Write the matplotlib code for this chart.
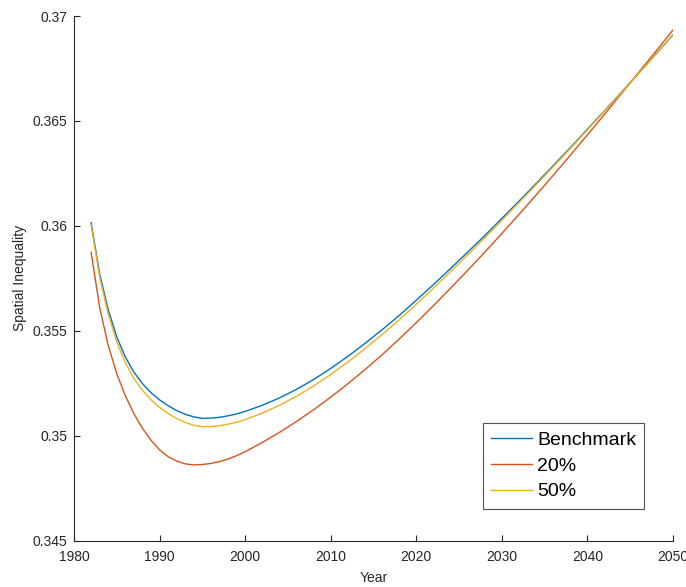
import numpy as np
import matplotlib
matplotlib.use('Agg')
import matplotlib.pyplot as plt
from matplotlib.ticker import FuncFormatter

plt.rcParams['font.family'] = ['Liberation Sans', 'DejaVu Sans']

# Simulated spatial inequality paths
years = [1982, 1983, 1984, 1985, 1986, 1987, 1988, 1989, 1990, 1991, 1992, 1993,
         1994, 1995, 1996, 1997, 1998, 1999, 2000, 2002, 2004, 2006, 2008, 2010,
         2012, 2014, 2016, 2018, 2020, 2022, 2024, 2026, 2028, 2030, 2032, 2034,
         2036, 2038, 2040, 2042, 2044, 2046, 2048, 2050]

benchmark = [0.36015, 0.35770, 0.35600, 0.35470, 0.35375, 0.35303, 0.35248, 0.35205,
             0.35171, 0.35143, 0.35120, 0.35102, 0.35090, 0.35083, 0.35084, 0.35088,
             0.35095, 0.35104, 0.35116, 0.35145, 0.35180, 0.35221, 0.35268, 0.35321,
             0.35378, 0.35440, 0.35505, 0.35573, 0.35646, 0.35720, 0.35797, 0.35875,
             0.35954, 0.36036, 0.36118, 0.36202, 0.36287, 0.36373, 0.36461, 0.36549,
             0.36638, 0.36728, 0.36819, 0.36911]

pct20 = [0.35874, 0.35610, 0.35430, 0.35295, 0.35190, 0.35105, 0.35035, 0.34978,
         0.34933, 0.34900, 0.34879, 0.34866, 0.34861, 0.34863, 0.34868, 0.34877,
         0.34889, 0.34905, 0.34924, 0.34968, 0.35016, 0.35068, 0.35124, 0.35184,
         0.35248, 0.35315, 0.35386, 0.35461, 0.35539, 0.35620, 0.35703, 0.35788,
         0.35875, 0.35964, 0.36055, 0.36147, 0.36241, 0.36337, 0.36434, 0.36532,
         0.36632, 0.36732, 0.36832, 0.36934]

pct50 = [0.36004, 0.35755, 0.35580, 0.35446, 0.35348, 0.35273, 0.35216, 0.35171,
         0.35135, 0.35106, 0.35082, 0.35063, 0.35050, 0.35043, 0.35044, 0.35048,
         0.35055, 0.35064, 0.35077, 0.35108, 0.35145, 0.35188, 0.35237, 0.35292,
         0.35351, 0.35415, 0.35482, 0.35552, 0.35627, 0.35703, 0.35782, 0.35862,
         0.35943, 0.36027, 0.36111, 0.36196, 0.36282, 0.36369, 0.36458, 0.36547,
         0.36636, 0.36727, 0.36818, 0.36910]

labels = ['Benchmark', '20%', '50%']
colors = ['#0072BD', '#D95319', '#EDB120']
ink = '#262626'

fig = plt.figure(figsize=(6.86, 5.87), dpi=100)
ax = fig.add_axes([0.1079, 0.0789, 0.8732, 0.8938])

for series, lab, col in zip([benchmark, pct20, pct50], labels, colors):
    ax.plot(years, series, color=col, lw=1.0, label=lab)

ax.set_xlim(1980, 2050)
ax.set_ylim(0.345, 0.37)
ax.set_xticks(np.arange(1980, 2051, 10))
ax.set_yticks(np.arange(0.345, 0.3701, 0.005))
ax.yaxis.set_major_formatter(FuncFormatter(lambda v, p: '{:g}'.format(round(v, 4))))

for side in ['top', 'right']:
    ax.spines[side].set_visible(False)
for side in ['left', 'bottom']:
    ax.spines[side].set_color(ink)
    ax.spines[side].set_linewidth(0.8)
ax.tick_params(direction='in', length=4.5, width=0.8, colors=ink, labelsize=10)
ax.tick_params(axis='x', pad=7)
ax.tick_params(axis='y', pad=5)

ax.set_xlabel('Year', fontsize=10, color=ink, labelpad=5)
ax.set_ylabel('Spatial Inequality', fontsize=10, color=ink, labelpad=4)

leg = ax.legend(loc='upper left', bbox_to_anchor=(0.6828, 0.2243), borderaxespad=0,
                fontsize=14, frameon=True, fancybox=False, handlelength=2.1,
                handletextpad=0.25, labelspacing=0.42, borderpad=0.42)
leg.get_frame().set_edgecolor(ink)
leg.get_frame().set_linewidth(0.8)
for t in leg.get_texts():
    t.set_color('black')

fig.savefig('out.png', dpi=100)
